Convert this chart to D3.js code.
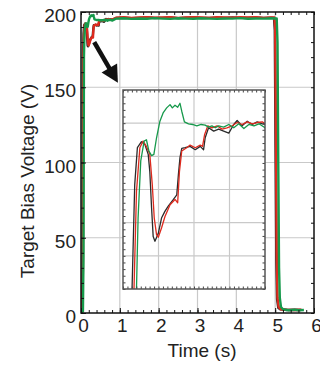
<!DOCTYPE html>
<html>
<head>
<meta charset="utf-8">
<script src="https://cdn.jsdelivr.net/npm/d3@7"></script>
<style>
  body { margin: 0; background: #fff; }
  svg text { font-family: "Liberation Sans", Arial, Helvetica, sans-serif; fill: #222; }
</style>
</head>
<body>
<div id="chart"></div>
<script>
var width = 320,
    height = 365;

// axis ticks
var xTicks = [0, 1, 2, 3, 4, 5, 6];
var yTicks = [0, 50, 100, 150, 200];
var insetXGrid = [0.2, 0.4, 0.6];
var insetYGrid = [175, 180, 185, 190, 195];

// traces, [time (s), voltage (V)]
var startBlack = [[0, 0.5], [0.02, 1], [0.04, 20], [0.051, 170], [0.066, 185.7], [0.081, 191.3], [0.104, 192.2],
  [0.123, 191.8], [0.142, 190.3], [0.151, 187.7], [0.161, 182.2], [0.170, 177.9], [0.180, 177.2], [0.199, 178.4],
  [0.217, 180.7], [0.236, 181.7], [0.255, 182.5], [0.284, 183.5], [0.303, 184.2], [0.312, 187.2], [0.321, 189.8],
  [0.331, 191.2], [0.350, 191.3], [0.378, 191.5], [0.407, 191.0], [0.435, 191.5], [0.454, 191.0], [0.463, 192.8],
  [0.482, 194.3], [0.511, 193.8], [0.539, 194.1], [0.567, 193.8], [0.596, 193.5], [0.624, 194.8], [0.643, 195.4],
  [0.671, 194.6], [0.700, 195.3], [0.728, 194.8], [0.756, 195.2], [0.785, 194.9], [0.8, 194.8]];
var restBlack = [[0.9, 196.0], [1.1, 196.2], [1.3, 195.9], [1.5, 196.1], [1.7, 196.3], [1.9, 196.0], [2.1, 196.1],
  [2.3, 196.3], [2.5, 195.9], [2.7, 196.2], [2.9, 196.3], [3.1, 196.0], [3.3, 196.1], [3.5, 196.2], [3.7, 196.0],
  [3.9, 196.3], [4.1, 196.1], [4.3, 196.0], [4.5, 196.3], [4.7, 196.1], [4.9, 196.2], [4.97, 196.1], [4.99, 188],
  [5.01, 110], [5.03, 35], [5.05, 9], [5.08, 3.5], [5.13, 2.4], [5.3, 2.0], [5.5, 2.2], [5.66, 2.0]];

var startRed = [[0, 0.5], [0.03, 2], [0.05, 30], [0.062, 170], [0.076, 184.7], [0.095, 191.3], [0.113, 192.3],
  [0.132, 191.5], [0.151, 190.3], [0.165, 185.7], [0.176, 180.7], [0.189, 178.2], [0.199, 177.8], [0.217, 179.2],
  [0.236, 180.9], [0.265, 182.7], [0.293, 183.5], [0.308, 183.0], [0.318, 187.7], [0.331, 190.8], [0.359, 191.3],
  [0.378, 191.7], [0.407, 191.3], [0.435, 191.7], [0.448, 191.5], [0.460, 193.3], [0.478, 194.6], [0.501, 194.3],
  [0.530, 194.6], [0.558, 194.1], [0.586, 194.3], [0.615, 194.6], [0.643, 195.1], [0.671, 194.8], [0.700, 195.2],
  [0.728, 194.9], [0.756, 195.1], [0.785, 195.2], [0.8, 194.9]];
var restRed = [[0.9, 196.2], [1.1, 196.5], [1.3, 196.1], [1.5, 196.4], [1.7, 196.6], [1.9, 196.2], [2.1, 196.3],
  [2.3, 196.5], [2.5, 196.0], [2.7, 196.4], [2.9, 196.6], [3.1, 196.3], [3.3, 196.1], [3.5, 196.5], [3.7, 196.4],
  [3.9, 196.2], [4.1, 196.6], [4.3, 196.3], [4.5, 196.5], [4.7, 196.1], [4.9, 196.4], [4.98, 196.3], [5.0, 190],
  [5.02, 120], [5.04, 40], [5.06, 10], [5.09, 4], [5.14, 2.5], [5.3, 2.2], [5.5, 2.0], [5.68, 2.2]];

var startGreen = [[0, 0.5], [0.05, 1], [0.065, 40], [0.076, 170], [0.085, 180.7], [0.100, 189.3], [0.119, 192.3],
  [0.132, 192.5], [0.146, 190.8], [0.161, 190.1], [0.174, 190.3], [0.189, 192.8], [0.208, 195.3], [0.227, 196.6],
  [0.246, 197.3], [0.265, 197.8], [0.278, 197.3], [0.293, 197.7], [0.308, 197.4], [0.321, 198.0], [0.331, 196.8],
  [0.346, 195.2], [0.369, 194.9], [0.392, 194.8], [0.416, 194.6], [0.440, 194.8], [0.463, 194.7], [0.482, 194.4],
  [0.501, 194.6], [0.520, 194.3], [0.539, 194.6], [0.567, 194.4], [0.596, 194.8], [0.624, 194.3], [0.652, 194.9],
  [0.681, 194.2], [0.709, 194.8], [0.738, 194.6], [0.766, 194.9], [0.8, 194.3]];
var restGreen = [[0.9, 195.6], [1.1, 195.8], [1.3, 195.4], [1.5, 195.7], [1.7, 195.5], [1.9, 195.9], [2.1, 195.6],
  [2.3, 195.4], [2.5, 195.8], [2.7, 195.6], [2.9, 195.5], [3.1, 195.8], [3.3, 195.6], [3.5, 195.4], [3.7, 195.7],
  [3.9, 195.6], [4.1, 195.9], [4.3, 195.5], [4.5, 195.7], [4.7, 195.6], [4.9, 195.8], [5.04, 195.7], [5.06, 180],
  [5.08, 100], [5.10, 30], [5.12, 10], [5.15, 4], [5.2, 2.5], [5.35, 1.8], [5.5, 2.2], [5.6, 1.8], [5.74, 2.0]];

var traces = [
  { name: "black", color: "#2b2b2b", values: startBlack.concat(restBlack) },
  { name: "red", color: "#dd2a1e", values: startRed.concat(restRed) },
  { name: "green", color: "#16994b", values: startGreen.concat(restGreen) }
];

var svg = d3.select("#chart").append("svg")
    .attr("width", width)
    .attr("height", height);

var x = d3.scaleLinear().domain([0, 6]).range([81, 314]);
var y = d3.scaleLinear().domain([0, 200]).range([313, 12]);

var defs = svg.append("defs");
defs.append("clipPath").attr("id", "mainClip")
  .append("rect")
    .attr("x", 81).attr("y", 12).attr("width", 233).attr("height", 301);

// grid
var grid = svg.append("g").attr("class", "grid");
grid.selectAll(".vgrid")
    .data(xTicks.slice(1, -1))
  .enter().append("line")
    .attr("x1", x).attr("x2", x)
    .attr("y1", y(0)).attr("y2", y(200))
    .style("stroke", "#c9c9c9").style("stroke-width", 1.2);
grid.selectAll(".hgrid")
    .data(yTicks.slice(1, -1))
  .enter().append("line")
    .attr("y1", y).attr("y2", y)
    .attr("x1", x(0)).attr("x2", x(6))
    .style("stroke", "#c9c9c9").style("stroke-width", 1.2);

// main traces
var line = d3.line()
    .x(function(d) { return x(d[0]); })
    .y(function(d) { return y(d[1]); });

svg.append("g")
    .attr("clip-path", "url(#mainClip)")
  .selectAll(".trace")
    .data(traces)
  .enter().append("path")
    .attr("class", "trace")
    .attr("d", function(d) { return line(d.values); })
    .style("fill", "none")
    .style("stroke", function(d) { return d.color; })
    .style("stroke-width", 2.4)
    .style("stroke-linejoin", "round");

// axes
var minorX = d3.range(0, 6.001, 0.2);
var minorY = d3.range(0, 200.1, 10);

function drawAxis(axis, transform) {
  var g = svg.append("g").attr("transform", transform).call(axis);
  g.select(".domain").remove();
  g.selectAll(".tick line").style("stroke", "#111").style("stroke-width", 1);
  return g;
}

var bottom = drawAxis(d3.axisBottom(x).tickValues(xTicks).tickSize(-5).tickPadding(6).tickFormat(d3.format("d")),
  "translate(0," + y(0) + ")");
bottom.selectAll("text").style("font-size", "19px").attr("dx", 2);
drawAxis(d3.axisBottom(x).tickValues(minorX).tickSize(-3).tickFormat(""), "translate(0," + y(0) + ")");
drawAxis(d3.axisTop(x).tickValues(minorX).tickSize(-3).tickFormat(""), "translate(0," + y(200) + ")");

var left = drawAxis(d3.axisLeft(y).tickValues(yTicks).tickSize(-5).tickPadding(5).tickFormat(d3.format("d")),
  "translate(" + x(0) + ",0)");
left.selectAll("text").style("font-size", "19px").attr("dy", "0.5em");
drawAxis(d3.axisLeft(y).tickValues(minorY).tickSize(-3).tickFormat(""), "translate(" + x(0) + ",0)");
drawAxis(d3.axisRight(y).tickValues(minorY).tickSize(-3).tickFormat(""), "translate(" + x(6) + ",0)");

svg.append("rect")
    .attr("x", x(0)).attr("y", y(200))
    .attr("width", x(6) - x(0)).attr("height", y(0) - y(200))
    .style("fill", "none").style("stroke", "#111").style("stroke-width", 1.5);

// axis titles
svg.append("text")
    .attr("x", 202).attr("y", 357)
    .attr("text-anchor", "middle")
    .style("font-size", "19px")
    .text("Time (s)");
svg.append("text")
    .attr("transform", "translate(34,181)rotate(-90)")
    .attr("text-anchor", "middle")
    .style("font-size", "19px")
    .text("Target Bias Voltage (V)");

// inset: zoom on the first 0.8 s
var xi = d3.scaleLinear().domain([0, 0.8]).range([123, 265]);
var yi = d3.scaleLinear().domain([170, 200]).range([289, 90]);

defs.append("clipPath").attr("id", "insetClip")
  .append("rect")
    .attr("x", 123).attr("y", 90).attr("width", 142).attr("height", 199);

var inset = svg.append("g").attr("id", "inset");
inset.append("rect")
    .attr("x", 123).attr("y", 90).attr("width", 142).attr("height", 199)
    .style("fill", "#fff");
inset.selectAll(".ivgrid")
    .data(insetXGrid)
  .enter().append("line")
    .attr("x1", xi).attr("x2", xi)
    .attr("y1", yi(170)).attr("y2", yi(200))
    .style("stroke", "#c9c9c9").style("stroke-width", 1.2);
inset.selectAll(".ihgrid")
    .data(insetYGrid)
  .enter().append("line")
    .attr("y1", yi).attr("y2", yi)
    .attr("x1", xi(0)).attr("x2", xi(0.8))
    .style("stroke", "#c9c9c9").style("stroke-width", 1.2);

var insetLine = d3.line()
    .x(function(d) { return xi(d[0]); })
    .y(function(d) { return yi(d[1]); });

inset.append("g")
    .attr("clip-path", "url(#insetClip)")
  .selectAll(".itrace")
    .data(traces)
  .enter().append("path")
    .attr("d", function(d) { return insetLine(d.values.filter(function(p) { return p[0] <= 0.9; })); })
    .style("fill", "none")
    .style("stroke", function(d) { return d.color; })
    .style("stroke-width", 1.3)
    .style("stroke-linejoin", "round");

var iMinorX = d3.range(0, 0.8001, 0.025);
var iMinorY = d3.range(170, 200.01, 1);
[[d3.axisBottom(xi), iMinorX, "translate(0,289)"],
 [d3.axisTop(xi), iMinorX, "translate(0,90)"],
 [d3.axisLeft(yi), iMinorY, "translate(123,0)"],
 [d3.axisRight(yi), iMinorY, "translate(265,0)"]].forEach(function(a) {
  var g = inset.append("g").attr("transform", a[2])
      .call(a[0].tickValues(a[1]).tickSize(-2.5).tickFormat(""));
  g.select(".domain").remove();
  g.selectAll(".tick line").style("stroke", "#444");
});

inset.append("rect")
    .attr("x", 123).attr("y", 90).attr("width", 142).attr("height", 199)
    .style("fill", "none").style("stroke", "#555").style("stroke-width", 1.5);

// arrow pointing to the start-up transient
var tail = [x(0.34), y(180)],
    tip = [x(0.95), y(153)];
var dx = tip[0] - tail[0], dy = tip[1] - tail[1],
    len = Math.sqrt(dx * dx + dy * dy),
    ux = dx / len, uy = dy / len,
    headLen = 17, headHalf = 9;
var base = [tip[0] - ux * headLen, tip[1] - uy * headLen];
svg.append("line")
    .attr("x1", tail[0]).attr("y1", tail[1])
    .attr("x2", base[0] + ux * 2).attr("y2", base[1] + uy * 2)
    .style("stroke", "#111").style("stroke-width", 4.5);
svg.append("path")
    .attr("d", "M" + tip[0] + "," + tip[1] +
      "L" + (base[0] - uy * headHalf) + "," + (base[1] + ux * headHalf) +
      "L" + (base[0] + uy * headHalf) + "," + (base[1] - ux * headHalf) + "Z")
    .style("fill", "#111");
</script>
</body>
</html>
